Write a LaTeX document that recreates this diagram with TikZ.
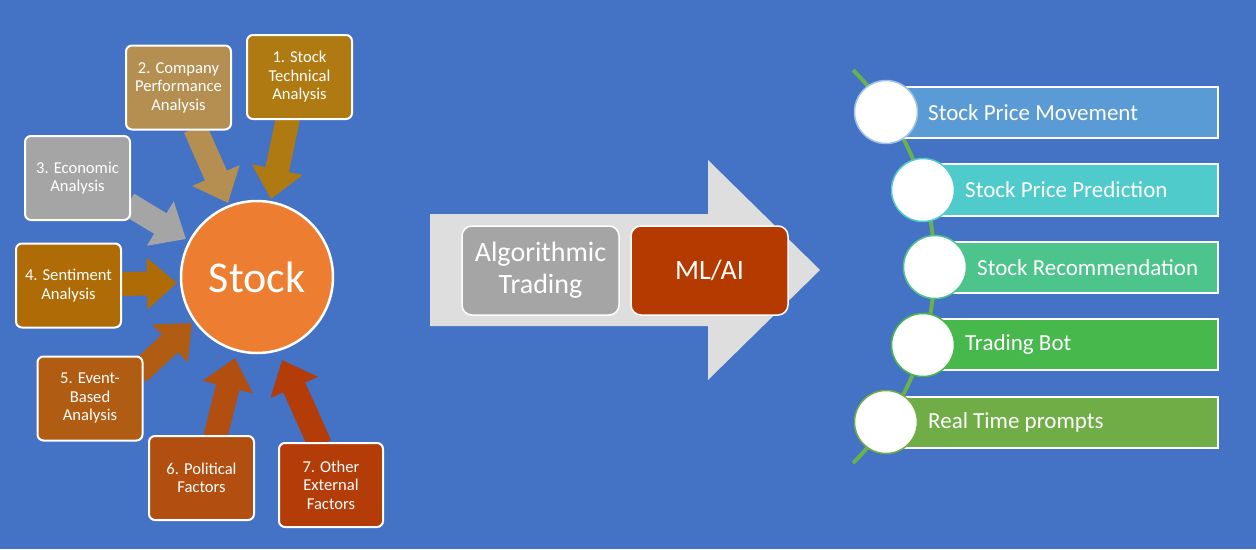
\documentclass[tikz,border=0pt]{standalone}
\usepackage{fontspec}
\setmainfont{Carlito}
\usetikzlibrary{arrows.meta}
\pgfdeclarelayer{bg}
\pgfsetlayers{bg,main}
\definecolor{bgblue}{HTML}{4472C4}
\definecolor{cA}{HTML}{B07A12}
\definecolor{cB}{HTML}{B58F52}
\definecolor{cC}{HTML}{A5A5A5}
\definecolor{cD}{HTML}{AE6B06}
\definecolor{cE}{HTML}{B05C12}
\definecolor{cF}{HTML}{B24E10}
\definecolor{cG}{HTML}{B33C08}
\definecolor{stockor}{HTML}{ED7D31}
\definecolor{bigarrow}{HTML}{DEDEDE}
\definecolor{mlred}{HTML}{B53A00}
\definecolor{barA}{HTML}{5B9BD5}
\definecolor{barB}{HTML}{4FCBCB}
\definecolor{barC}{HTML}{4DC48C}
\definecolor{barD}{HTML}{46B84C}
\definecolor{barE}{HTML}{70AD47}
\definecolor{curvegreen}{HTML}{6AAF50}
\tikzset{
  factor/.style={rectangle, rounded corners=6pt, draw=white, line width=2pt,
    minimum width=105pt, minimum height=84pt, align=center, text=white,
    font=\fontsize{16.6}{18.5}\selectfont, inner sep=2pt},
  fat/.style={line width=24pt, -{Triangle[width=50pt,length=30pt]}},
  midbox/.style={rectangle, rounded corners=10pt, draw=white, line width=1.5pt,
    minimum width=157pt, minimum height=89pt, align=center, text=white,
    font=\fontsize{28}{32}\selectfont},
  barbox/.style={draw=white, line width=2pt},
  dot/.style={circle, fill=white, minimum size=63pt, inner sep=0pt, line width=1.5pt},
  bartext/.style={anchor=west, text=white, font=\fontsize{23}{27}\selectfont, inner sep=0pt}
}
\begin{document}
\begin{tikzpicture}[x=1pt,y=-1pt]
\useasboundingbox (0,0) rectangle (1256,549);
\begin{pgfonlayer}{bg}
\fill[bgblue] (0,0) rectangle (1256,549);
\end{pgfonlayer}

% left cluster
\node[circle, fill=stockor, draw=white, line width=2.5pt, minimum size=152pt, text=white,
  font=\fontsize{44}{48}\selectfont] (stock) at (257,277) {Stock};
\node[factor, fill=cA] (f1) at (299.5,77) {1. Stock\\Technical\\Analysis};
\node[factor, fill=cB] (f2) at (178.5,87.5) {2. Company\\Performance\\Analysis};
\node[factor, fill=cC] (f3) at (77.5,178) {3. Economic\\Analysis};
\node[factor, fill=cD] (f4) at (68.5,285.5) {4. Sentiment\\Analysis};
\node[factor, fill=cE] (f5) at (90,398.5) {5. Event-\\Based\\Analysis};
\node[factor, fill=cF] (f6) at (201.5,478) {6. Political\\Factors};
\node[factor, fill=cG, minimum width=104pt] (f7) at (331,485) {7. Other\\External\\Factors};

\coordinate (s1) at (288,118);  \coordinate (e1) at (271,199);
\coordinate (s2) at (195,128);  \coordinate (e2) at (228,203);
\coordinate (s3) at (128,204);  \coordinate (e3) at (186,239);
\coordinate (s4) at (119,284);  \coordinate (e4) at (177,283);
\coordinate (s5) at (138,373);  \coordinate (e5) at (192,323);
\coordinate (s6) at (215,438);  \coordinate (e6) at (235,358);
\coordinate (s7) at (320,445);  \coordinate (e7) at (282,360);
\begin{pgfonlayer}{bg}
\draw[fat, cA] (s1) -- (e1);
\draw[fat, cB] (s2) -- (e2);
\draw[fat, cC] (s3) -- (e3);
\draw[fat, cD] (s4) -- (e4);
\draw[fat, cE] (s5) -- (e5);
\draw[fat, cF] (s6) -- (e6);
\draw[fat, cG] (s7) -- (e7);
\end{pgfonlayer}

% middle arrow
\fill[bigarrow] (430,214) -- (708,214) -- (708,160) -- (820,270) -- (708,380) -- (708,326) -- (430,326) -- cycle;
\node[midbox, fill=cC] (algo) at (540.5,270.5) {Algorithmic\\Trading};
\node[midbox, fill=mlred] (ml) at (709.5,270.5) {ML/AI};

% right list
\coordinate (cs) at (853,70);
\draw[curvegreen, line width=4pt] (cs) arc[start angle=45, end angle=-45, radius=278pt];

\path[barbox, fill=barA] (886,87) rectangle (1218,138);
\path[barbox, fill=barB] (923,164) rectangle (1218,216);
\path[barbox, fill=barC] (935,242) rectangle (1218,293);
\path[barbox, fill=barD] (923,319) rectangle (1218,370);
\path[barbox, fill=barE] (886,397) rectangle (1218,448);

\node[bartext] (t1) at (928,112.5) {Stock Price Movement};
\node[bartext] (t2) at (965,190) {Stock Price Prediction};
\node[bartext] (t3) at (977,267.5) {Stock Recommendation};
\node[bartext] (t4) at (965,344.5) {Trading Bot};
\node[bartext] (t5) at (928,422.5) {Real Time prompts};

\node[dot, draw=barA!60!white] (d1) at (886,112) {};
\node[dot, draw=barB] (d2) at (923,190) {};
\node[dot, draw=barC] (d3) at (935,267) {};
\node[dot, draw=barD] (d4) at (923,345) {};
\node[dot, draw=barE] (d5) at (886,422) {};
\end{tikzpicture}
\end{document}
